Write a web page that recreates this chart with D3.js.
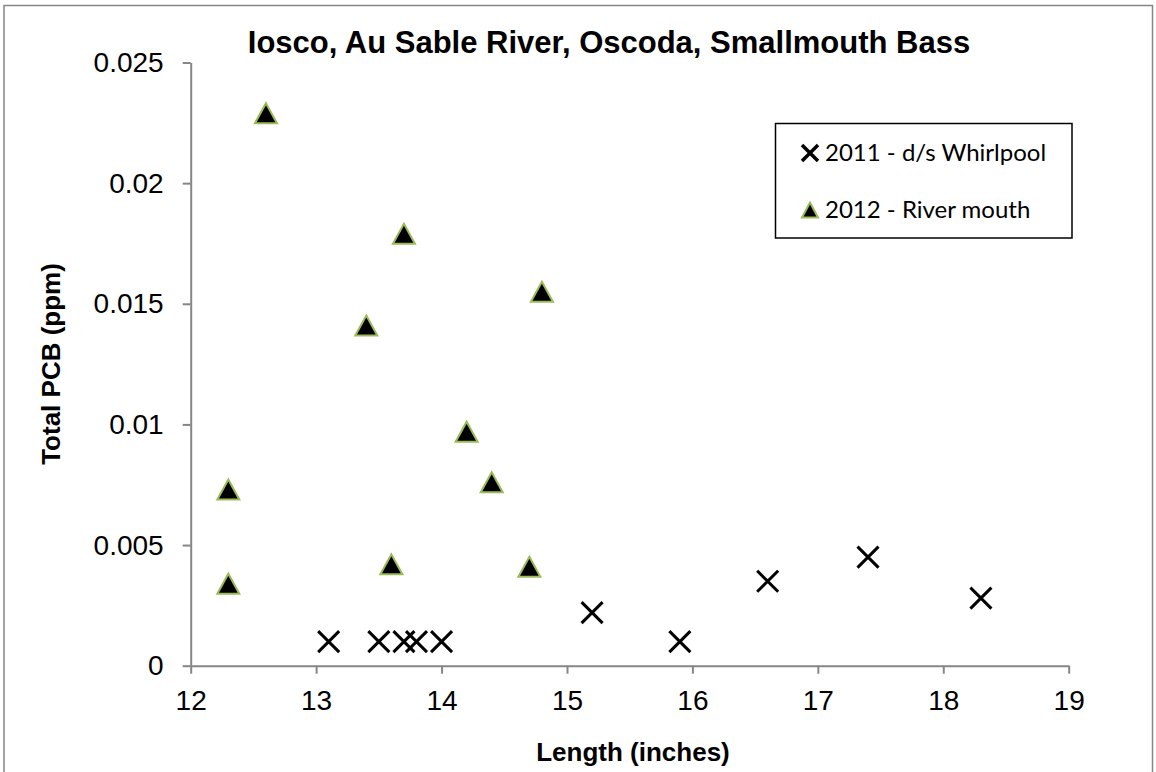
<!DOCTYPE html>
<html><head><meta charset="utf-8">
<script src="https://cdn.jsdelivr.net/npm/d3@7"></script>
<style>
html,body{margin:0;padding:0;background:#fff;}
svg{display:block;}
</style></head>
<body>
<script>
const title = "Iosco, Au Sable River, Oscoda, Smallmouth Bass";
const xTitle = "Length (inches)";
const yTitle = "Total PCB (ppm)";
const xTicks = [12, 13, 14, 15, 16, 17, 18, 19];
const yTicks = [0, 0.005, 0.01, 0.015, 0.02, 0.025];
const yTickLabels = ["0", "0.005", "0.01", "0.015", "0.02", "0.025"];
const seriesNames = ["2011 - d/s Whirlpool", "2012 - River mouth"];
const len2011 = [13.1, 13.5, 13.7, 13.8, 14.0, 15.2, 15.9, 16.6, 17.4, 18.3];
const pcb2011 = [0.001, 0.001, 0.001, 0.001, 0.001, 0.0022, 0.001, 0.0035, 0.0045, 0.0028];
const len2012 = [12.6, 12.3, 12.3, 13.4, 13.6, 13.7, 14.2, 14.4, 14.7, 14.8];
const pcb2012 = [0.0229, 0.0073, 0.0034, 0.0141, 0.0042, 0.0179, 0.0097, 0.0076, 0.0041, 0.0155];

const W = 1156, H = 772;
const svg = d3.select("body").append("svg").attr("width", W).attr("height", H);

// outer chart border
svg.append("rect").attr("x", 4).attr("y", 5.5).attr("width", 1148.5).attr("height", 800)
  .attr("fill", "none").attr("stroke", "#868686").attr("stroke-width", 1.5);

const x = d3.scaleLinear().domain([12, 19]).range([190.7, 1068.7]);
const y = d3.scaleLinear().domain([0, 0.025]).range([665.7, 62.5]);
const axisColor = "#868686";
const tickFont = "'Liberation Sans', Arial, sans-serif";

const gx = svg.append("g").attr("transform", `translate(0,${y(0)})`)
  .call(d3.axisBottom(x).tickValues(xTicks).tickSize(8).tickSizeOuter(0).tickPadding(16).tickFormat(d3.format("d")));
const gy = svg.append("g").attr("transform", `translate(${x(12)},0)`)
  .call(d3.axisLeft(y).tickValues(yTicks).tickSize(8).tickSizeOuter(0).tickPadding(19)
    .tickFormat((d, i) => yTickLabels[i]));
[gx, gy].forEach(g => {
  g.select(".domain").attr("stroke", axisColor).attr("stroke-width", 2);
  g.selectAll(".tick line").attr("stroke", axisColor).attr("stroke-width", 2);
  g.selectAll(".tick text").attr("fill", "#000").style("font-family", tickFont).style("font-size", "28px");
});

// title
svg.append("text").attr("x", 609).attr("y", 53).attr("text-anchor", "middle")
  .style("font-family", tickFont).style("font-weight", "bold").style("font-size", "31px")
  .text(title);
// axis titles
svg.append("text").attr("x", 633).attr("y", 761).attr("text-anchor", "middle")
  .style("font-family", tickFont).style("font-weight", "bold").style("font-size", "26px")
  .text(xTitle);
svg.append("text").attr("transform", "translate(60,364) rotate(-90)").attr("text-anchor", "middle")
  .style("font-family", tickFont).style("font-weight", "bold").style("font-size", "26px")
  .text(yTitle);

// markers
function xMark(g, cx, cy, r, sw) {
  g.append("path").attr("d", `M${cx - r},${cy - r}L${cx + r},${cy + r}M${cx - r},${cy + r}L${cx + r},${cy - r}`)
    .attr("stroke", "#000").attr("stroke-width", sw).attr("fill", "none");
}
function triMark(g, cx, cy, w, h) {
  g.append("path").attr("d", `M${cx},${cy - h / 2}L${cx + w / 2},${cy + h / 2}L${cx - w / 2},${cy + h / 2}Z`)
    .attr("fill", "#000").attr("stroke", "#9BBB59").attr("stroke-width", 2).attr("stroke-linejoin", "miter");
}
const gm = svg.append("g");
len2012.forEach((d, i) => triMark(gm, x(d), y(pcb2012[i]), 22, 20));
len2011.forEach((d, i) => xMark(gm, x(d), y(pcb2011[i]), 10.5, 3));

// legend
const lg = svg.append("g");
lg.append("rect").attr("x", 775.5).attr("y", 123.5).attr("width", 296.5).attr("height", 114.5)
  .attr("fill", "#fff").attr("stroke", "#000").attr("stroke-width", 1.5);
xMark(lg, 810, 153, 8, 3.5);
triMark(lg, 810, 210, 16, 15);
const legFont = "Lato, 'Open Sans', sans-serif";
seriesNames.forEach((s, i) => {
  lg.append("text").attr("x", 825).attr("y", 153 + i * 57).attr("dy", "0.35em")
    .style("font-family", legFont).style("font-size", "24px").attr("fill", "#000").text(s);
});
</script>
</body></html>
